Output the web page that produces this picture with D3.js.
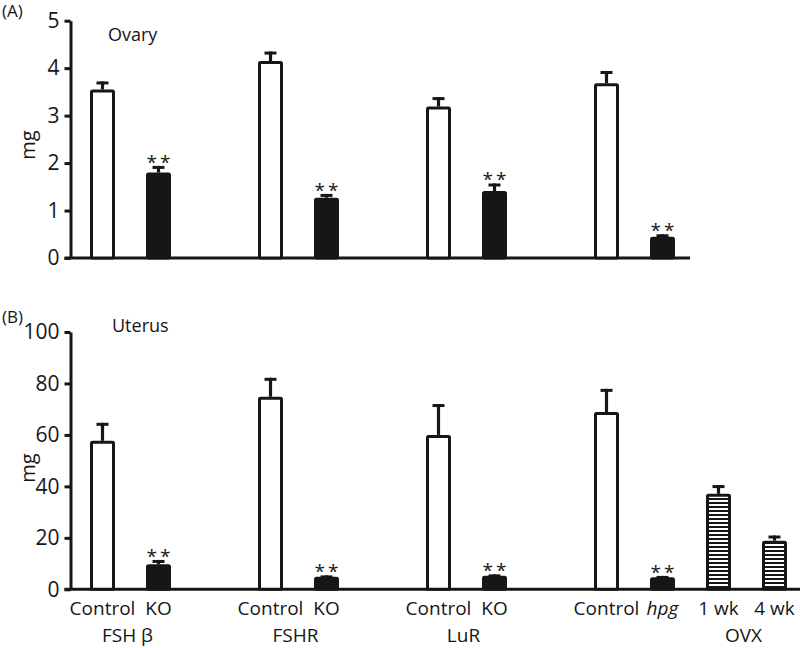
<!DOCTYPE html>
<html>
<head>
<meta charset="utf-8">
<script src="https://cdn.jsdelivr.net/npm/d3@7"></script>
<style>
  html, body { margin: 0; padding: 0; background: #fff; }
  svg { display: block; font-family: "Open Sans", "Noto Sans", sans-serif; }
</style>
</head>
<body>
<svg id="chart" width="800" height="648"></svg>
<script>
// ---------------- data ----------------
const categories = ["Control", "KO", "Control", "KO", "Control", "KO", "Control", "hpg", "1 wk", "4 wk"];
const slots      = [0, 1, 3, 4, 6, 7, 9, 10, 11, 12];
const fills      = ["open", "solid", "open", "solid", "open", "solid", "open", "solid", "hatch", "hatch"];
const significant = [false, true, false, true, false, true, false, true, false, false];
const italicLabels = ["hpg"];

const groupNames = ["FSH β", "FSHR", "LuR", "OVX"];
const groupMembers = [[0, 1], [2, 3], [4, 5], [8, 9]];

const ovaryMean = [3.55, 1.80, 4.15, 1.27, 3.19, 1.41, 3.68, 0.45];
const ovaryErr  = [0.17, 0.14, 0.20, 0.08, 0.20, 0.16, 0.26, 0.05];

const uterusMean = [57.7, 9.7, 74.8, 4.9, 60.0, 5.3, 68.9, 4.7, 37.1, 18.9];
const uterusErr  = [7.0, 1.7, 7.4, 0.5, 12.0, 0.5, 9.0, 0.5, 3.4, 2.0];

const ovaryTicks  = [0, 1, 2, 3, 4, 5];
const uterusTicks = [0, 20, 40, 60, 80, 100];

// ---------------- drawing ----------------
const INK = "#161616";
const svg = d3.select("#chart");

const defs = svg.append("defs");
const pat = defs.append("pattern")
  .attr("id", "hatch").attr("patternUnits", "userSpaceOnUse")
  .attr("width", 8).attr("height", 4);
pat.append("rect").attr("width", 8).attr("height", 4).attr("fill", "#fff");
pat.append("rect").attr("y", 2).attr("width", 8).attr("height", 2).attr("fill", INK);

const x = d3.scalePoint()
  .domain(d3.range(13))
  .range([102.5, 774.5]);

const axisX = 70.5;
const barW = 22;   // + 3px stroke = 25px outer

function panel(opts) {
  const { means, errs, y, ticks, baselineEnd, letter, letterY, title, titleX, titleY, mgY, withLabels } = opts;
  const g = svg.append("g");

  // y axis
  const ax = g.append("g")
    .attr("transform", `translate(${axisX},0)`)
    .call(d3.axisLeft(y).tickValues(ticks).tickFormat(d3.format("d"))
      .tickSize(6).tickSizeOuter(0).tickPadding(5));
  ax.select(".domain").attr("stroke", INK).attr("stroke-width", 3);
  ax.selectAll(".tick line").attr("stroke", INK).attr("stroke-width", 3);
  ax.selectAll(".tick text")
    .attr("fill", INK).attr("font-size", 21)
    .attr("font-family", "'Open Sans', sans-serif");

  // baseline
  g.append("line")
    .attr("x1", axisX - 6).attr("x2", baselineEnd)
    .attr("y1", y(0)).attr("y2", y(0))
    .attr("stroke", INK).attr("stroke-width", 3);

  const data = means.map((m, i) => ({ m, e: errs[i], i }));

  // error bars
  const eb = g.selectAll(".err").data(data).enter().append("g");
  eb.append("line")
    .attr("x1", d => x(slots[d.i])).attr("x2", d => x(slots[d.i]))
    .attr("y1", d => y(d.m)).attr("y2", d => y(d.m + d.e))
    .attr("stroke", INK).attr("stroke-width", 3.2);
  eb.append("line")
    .attr("x1", d => x(slots[d.i]) - 6).attr("x2", d => x(slots[d.i]) + 6)
    .attr("y1", d => y(d.m + d.e) + 1.5).attr("y2", d => y(d.m + d.e) + 1.5)
    .attr("stroke", INK).attr("stroke-width", 3);

  // bars
  g.selectAll(".bar").data(data).enter().append("rect")
    .attr("x", d => x(slots[d.i]) - barW / 2)
    .attr("width", barW)
    .attr("y", d => y(d.m) + 1.5)
    .attr("height", d => y(0) - y(d.m) - 1.5)
    .attr("rx", 1)
    .attr("fill", d => fills[d.i] === "open" ? "#fff" : fills[d.i] === "solid" ? INK : "url(#hatch)")
    .attr("stroke", INK).attr("stroke-width", 3);

  // significance stars
  g.selectAll(".star").data(data.filter(d => significant[d.i])).enter().append("text")
    .attr("x", d => x(slots[d.i]) + 1.5)
    .attr("y", d => y(d.m + d.e) + 3)
    .attr("text-anchor", "middle")
    .attr("font-size", 19)
    .attr("letter-spacing", 3)
    .attr("fill", INK)
    .text("**");

  // texts
  g.append("text").attr("x", 2).attr("y", letterY).attr("font-size", 17).attr("fill", INK).text(letter);
  g.append("text").attr("x", titleX).attr("y", titleY).attr("font-size", 18).attr("fill", INK).text(title);
  g.append("text")
    .attr("transform", `translate(35,${mgY}) rotate(-90)`)
    .attr("text-anchor", "middle").attr("font-size", 20).attr("fill", INK).text("mg");

  if (withLabels) {
    g.selectAll(".cat").data(categories).enter().append("text")
      .attr("x", (d, i) => x(slots[i]))
      .attr("y", 615)
      .attr("text-anchor", "middle")
      .attr("font-size", 19)
      .attr("font-style", d => italicLabels.includes(d) ? "italic" : "normal")
      .attr("fill", INK)
      .text(d => d);
    g.selectAll(".grp").data(groupNames).enter().append("text")
      .attr("x", (d, i) => d3.mean(groupMembers[i], k => x(slots[k])) - 3)
      .attr("y", 642)
      .attr("text-anchor", "middle")
      .attr("font-size", 19)
      .attr("fill", INK)
      .text(d => d);
  }
}

panel({
  means: ovaryMean, errs: ovaryErr,
  y: d3.scaleLinear().domain([0, 5]).range([258, 20.7]),
  ticks: ovaryTicks, baselineEnd: 690,
  letter: "(A)", letterY: 17, title: "Ovary", titleX: 108, titleY: 41, mgY: 145,
  withLabels: false
});

panel({
  means: uterusMean, errs: uterusErr,
  y: d3.scaleLinear().domain([0, 100]).range([589.3, 332]),
  ticks: uterusTicks, baselineEnd: 800,
  letter: "(B)", letterY: 323, title: "Uterus", titleX: 112, titleY: 332, mgY: 468,
  withLabels: true
});
</script>
</body>
</html>
